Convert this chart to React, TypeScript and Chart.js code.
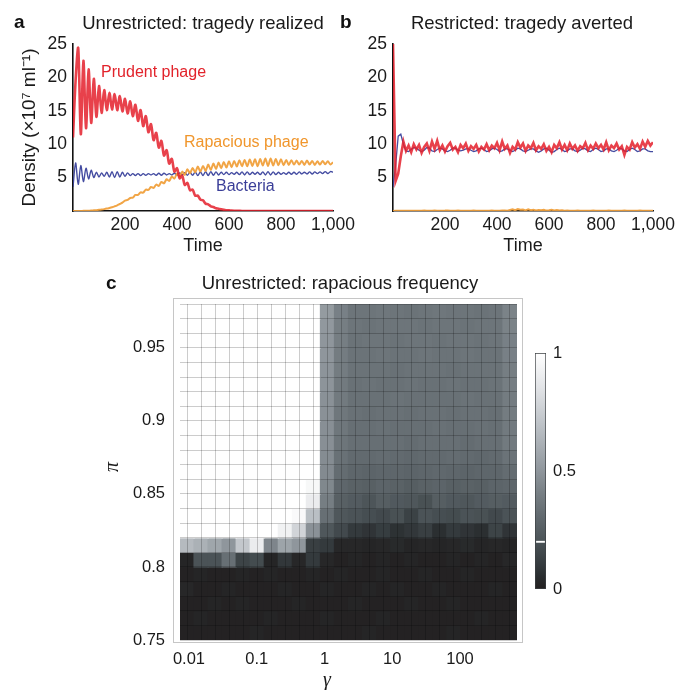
import React, { useEffect, useRef } from 'react';
import { Chart, registerables } from 'chart.js';
Chart.register(...registerables);

// ---------------- data ----------------
const TIME = [0, 10, 20, 30, 40, 50, 60, 70, 80, 90, 100, 110, 120, 130, 140, 150, 160, 170, 180, 190, 200, 210, 220, 230, 240, 250, 260, 270, 280, 290, 300, 310, 320, 330, 340, 350, 360, 370, 380, 390, 400, 410, 420, 430, 440, 450, 460, 470, 480, 490, 500, 510, 520, 530, 540, 550, 560, 570, 580, 590, 600, 610, 620, 630, 640, 650, 660, 670, 680, 690, 700, 710, 720, 730, 740, 750, 760, 770, 780, 790, 800, 810, 820, 830, 840, 850, 860, 870, 880, 890, 900, 910, 920, 930, 940, 950, 960, 970, 980, 990, 1000];
const TIME_TICKS = [200, 400, 600, 800, 1000];
const TIME_TICK_LABELS = ['200', '400', '600', '800', '1,000'];
const DENSITY_TICKS = [5, 10, 15, 20, 25];

// Panel a: unrestricted
const PRUDENT_A = [
  11, 19.5, 24.4, 11.5, 22.5, 12.4, 21.2, 13.2, 19.8, 14.1,
  18.7, 14.7, 18.1, 15.1, 17.7, 15.2, 17.5, 15.1, 17.2, 14.9,
  16.8, 14.6, 16.4, 14.2, 15.9, 13.5, 15.1, 12.7, 14.2, 11.8,
  13.0, 10.6, 11.7, 9.5, 10.5, 8.3, 9.1, 7.1, 7.8, 5.9,
  6.4, 4.9, 5.3, 3.9, 4.2, 3.1, 3.2, 2.3, 2.3, 1.7,
  1.6, 1.1, 1.0, 0.7, 0.6, 0.4, 0.35, 0.25, 0.2, 0.12,
  0.1, 0.06, 0.04, 0.03, 0.02, 0.01, 0.01, 0, 0, 0,
  0, 0, 0, 0, 0, 0, 0, 0, 0, 0,
  0, 0, 0, 0, 0, 0, 0, 0, 0, 0,
  0, 0, 0, 0, 0, 0, 0, 0, 0, 0,
  0];
const RAPACIOUS_A = [
  0, 0, 0, 0.01, 0.02, 0.03, 0.05, 0.07, 0.1, 0.13,
  0.17, 0.22, 0.28, 0.36, 0.46, 0.57, 0.7, 0.85, 1.05, 1.25,
  1.55, 1.65, 1.95, 2.0, 2.4, 2.4, 2.8, 2.75, 3.2, 3.15,
  3.6, 3.45, 3.95, 3.75, 4.35, 4.15, 4.75, 4.5, 5.15, 4.85,
  5.6, 5.15, 5.9, 5.4, 6.25, 5.65, 6.45, 5.8, 6.65, 5.9,
  6.75, 6.0, 6.95, 6.15, 7.1, 6.3, 7.25, 6.4, 7.35, 6.5,
  7.45, 6.55, 7.5, 6.65, 7.6, 6.7, 7.65, 6.7, 7.7, 6.75,
  7.75, 6.7, 7.8, 6.8, 7.85, 6.75, 7.85, 6.8, 7.8, 6.85,
  7.75, 6.85, 7.65, 6.9, 7.6, 6.95, 7.55, 6.95, 7.5, 6.9,
  7.55, 6.95, 7.5, 6.9, 7.45, 6.95, 7.5, 7.0, 7.45, 6.95,
  7.3];
const BACTERIA_A = [
  3.6, 7.2, 4.0, 6.8, 4.4, 6.4, 4.8, 6.1, 5.0, 5.8,
  5.1, 5.7, 5.2, 5.8, 5.1, 5.9, 5.0, 5.9, 5.1, 5.8,
  5.2, 5.7, 5.3, 5.6, 5.3, 5.6, 5.3, 5.6, 5.35, 5.6,
  5.4, 5.6, 5.35, 5.65, 5.35, 5.65, 5.4, 5.6, 5.4, 5.65,
  5.4, 5.7, 5.4, 5.75, 5.35, 5.8, 5.35, 5.85, 5.3, 5.85,
  5.3, 5.9, 5.3, 5.9, 5.35, 5.85, 5.4, 5.8, 5.45, 5.8,
  5.45, 5.75, 5.5, 5.8, 5.45, 5.85, 5.4, 5.85, 5.45, 5.8,
  5.5, 5.8, 5.45, 5.85, 5.4, 5.9, 5.4, 5.85, 5.45, 5.8,
  5.5, 5.75, 5.5, 5.8, 5.5, 5.8, 5.5, 5.85, 5.55, 5.8,
  5.55, 5.85, 5.55, 5.85, 5.6, 5.85, 5.6, 5.9, 5.6, 5.9,
  5.8];

// Panel b: restricted
const PRUDENT_B = [
  25, 4.5, 5.6, 8.2, 10.4, 9.0, 9.8, 8.8, 10.0, 9.2,
  9.9, 8.7, 9.6, 10.1, 9.0, 10.4, 9.3, 10.5, 9.1, 9.8,
  8.9, 9.7, 10.2, 9.2, 9.6, 8.8, 9.9, 9.4, 10.1, 9.0,
  9.7, 9.3, 9.9, 8.9, 9.6, 9.2, 10.0, 9.1, 9.8, 9.4,
  10.2, 9.1, 10.4, 9.3, 9.8, 8.7, 9.6, 9.2, 10.3, 9.5,
  10.1, 9.0, 9.8, 9.4, 10.2, 9.1, 9.7, 9.3, 10.0, 9.0,
  9.6, 8.8, 9.9, 9.4, 10.3, 9.2, 9.9, 9.1, 10.1, 9.3,
  9.8, 9.0, 9.7, 9.4, 10.2, 9.1, 9.8, 9.3, 10.1, 9.4,
  9.9, 9.2, 10.3, 9.1, 9.8, 9.4, 10.1, 9.2, 9.7, 8.4,
  9.6, 9.2, 10.3, 9.5, 10.0, 9.3, 10.4, 9.6, 10.5, 9.8,
  10.3];
const RAPACIOUS_B = [
  0, 0.02, 0.03, 0.03, 0.04, 0.03, 0.04, 0.05, 0.04, 0.05,
  0.05, 0.04, 0.06, 0.05, 0.04, 0.05, 0.06, 0.05, 0.04, 0.05,
  0.06, 0.08, 0.05, 0.04, 0.05, 0.06, 0.05, 0.04, 0.05, 0.04,
  0.05, 0.06, 0.05, 0.04, 0.05, 0.05, 0.04, 0.05, 0.06, 0.05,
  0.05, 0.04, 0.06, 0.08, 0.05, 0.15, 0.25, 0.12, 0.3, 0.18,
  0.22, 0.1, 0.25, 0.12, 0.2, 0.08, 0.15, 0.1, 0.18, 0.06,
  0.12, 0.2, 0.08, 0.15, 0.06, 0.12, 0.05, 0.06, 0.05, 0.04,
  0.05, 0.06, 0.05, 0.04, 0.05, 0.04, 0.05, 0.06, 0.04, 0.05,
  0.05, 0.04, 0.05, 0.06, 0.05, 0.04, 0.05, 0.04, 0.05, 0.06,
  0.05, 0.04, 0.05, 0.04, 0.05, 0.06, 0.05, 0.04, 0.05, 0.04,
  0.05];
const BACTERIA_B = [
  3.6, 6.8, 11.2, 11.5, 10.0, 9.0, 8.9, 9.2, 9.5, 9.4,
  9.1, 8.9, 9.1, 9.5, 9.4, 9.0, 8.9, 9.2, 9.4, 9.3,
  9.0, 8.9, 9.1, 9.4, 9.4, 9.1, 9.0, 9.1, 9.3, 9.3,
  9.1, 8.9, 9.0, 9.3, 9.4, 9.2, 8.9, 9.0, 9.3, 9.4,
  9.2, 8.9, 9.0, 9.3, 9.3, 9.1, 8.9, 9.1, 9.4, 9.3,
  9.0, 8.9, 9.1, 9.3, 9.3, 9.0, 8.8, 9.0, 9.3, 9.4,
  9.1, 8.8, 8.9, 9.2, 9.4, 9.2, 8.9, 9.0, 9.3, 9.3,
  9.0, 8.9, 9.1, 9.4, 9.3, 9.0, 8.9, 9.2, 9.4, 9.2,
  8.9, 9.0, 9.3, 9.3, 9.0, 8.9, 9.1, 9.4, 9.3, 9.0,
  8.9, 9.2, 9.4, 9.2, 8.9, 9.0, 9.3, 9.3, 9.0, 8.9,
  8.9];

// Panel c: heatmap (log10 gamma cell centres, pi cell edges top->bottom)
const GAMMA_LOG = [-2.029, -1.822, -1.615, -1.407, -1.2, -0.993, -0.785, -0.578, -0.371, -0.164, 0.044, 0.251, 0.458, 0.666, 0.873, 1.08, 1.287, 1.495, 1.702, 1.909, 2.117, 2.324, 2.531, 2.738];
const GAMMA_TICKS = [-2, -1, 0, 1, 2];
const GAMMA_TICK_LABELS = ['0.01', '0.1', '1', '10', '100'];
const PI_EDGES = [0.98, 0.97, 0.96, 0.95, 0.94, 0.93, 0.92, 0.91, 0.9, 0.89, 0.88, 0.87, 0.86, 0.85, 0.84, 0.83, 0.82, 0.81, 0.8, 0.79, 0.78, 0.77, 0.76, 0.75];
const PI_TICKS = [0.75, 0.8, 0.85, 0.9, 0.95];
const PI_TICK_LABELS = ['0.75', '0.8', '0.85', '0.9', '0.95'];
const FREQ = [
  [1, 1, 1, 1, 1, 1, 1, 1, 1, 1, 0.52, 0.41, 0.36, 0.36, 0.37, 0.36, 0.35, 0.36, 0.37, 0.36, 0.36, 0.35, 0.36, 0.42],
  [1, 1, 1, 1, 1, 1, 1, 1, 1, 1, 0.51, 0.4, 0.36, 0.35, 0.36, 0.36, 0.36, 0.35, 0.36, 0.36, 0.35, 0.36, 0.36, 0.42],
  [1, 1, 1, 1, 1, 1, 1, 1, 1, 1, 0.5, 0.4, 0.35, 0.36, 0.36, 0.35, 0.36, 0.36, 0.35, 0.36, 0.36, 0.35, 0.36, 0.41],
  [1, 1, 1, 1, 1, 1, 1, 1, 1, 1, 0.5, 0.39, 0.35, 0.35, 0.36, 0.35, 0.35, 0.36, 0.35, 0.35, 0.36, 0.35, 0.35, 0.41],
  [1, 1, 1, 1, 1, 1, 1, 1, 1, 1, 0.49, 0.39, 0.35, 0.35, 0.35, 0.34, 0.35, 0.35, 0.35, 0.34, 0.35, 0.35, 0.35, 0.4],
  [1, 1, 1, 1, 1, 1, 1, 1, 1, 1, 0.49, 0.38, 0.34, 0.35, 0.34, 0.34, 0.35, 0.34, 0.34, 0.35, 0.34, 0.34, 0.35, 0.4],
  [1, 1, 1, 1, 1, 1, 1, 1, 1, 1, 0.48, 0.38, 0.34, 0.34, 0.34, 0.35, 0.34, 0.34, 0.34, 0.34, 0.35, 0.34, 0.34, 0.39],
  [1, 1, 1, 1, 1, 1, 1, 1, 1, 1, 0.48, 0.37, 0.34, 0.33, 0.34, 0.34, 0.33, 0.34, 0.34, 0.33, 0.34, 0.34, 0.33, 0.39],
  [1, 1, 1, 1, 1, 1, 1, 1, 1, 1, 0.47, 0.37, 0.33, 0.33, 0.34, 0.33, 0.33, 0.33, 0.34, 0.33, 0.33, 0.34, 0.33, 0.38],
  [1, 1, 1, 1, 1, 1, 1, 1, 1, 1, 0.47, 0.36, 0.33, 0.33, 0.33, 0.33, 0.32, 0.33, 0.33, 0.33, 0.32, 0.33, 0.33, 0.38],
  [1, 1, 1, 1, 1, 1, 1, 1, 1, 1, 0.46, 0.34, 0.31, 0.31, 0.32, 0.31, 0.3, 0.31, 0.31, 0.32, 0.31, 0.3, 0.31, 0.35],
  [1, 1, 1, 1, 1, 1, 1, 1, 1, 1, 0.45, 0.32, 0.29, 0.28, 0.29, 0.29, 0.28, 0.29, 0.3, 0.29, 0.28, 0.29, 0.29, 0.32],
  [1, 1, 1, 1, 1, 1, 1, 1, 1, 0.96, 0.44, 0.29, 0.27, 0.26, 0.28, 0.27, 0.25, 0.27, 0.28, 0.26, 0.27, 0.26, 0.28, 0.29],
  [1, 1, 1, 1, 1, 1, 1, 1, 1, 0.9, 0.4, 0.26, 0.24, 0.21, 0.25, 0.23, 0.22, 0.19, 0.25, 0.23, 0.22, 0.24, 0.25, 0.24],
  [1, 1, 1, 1, 1, 1, 1, 1, 0.97, 0.68, 0.33, 0.22, 0.2, 0.18, 0.16, 0.19, 0.13, 0.2, 0.18, 0.17, 0.2, 0.19, 0.16, 0.2],
  [1, 1, 1, 1, 1, 1, 1, 0.93, 0.78, 0.48, 0.22, 0.16, 0.1, 0.08, 0.11, 0.07, 0.09, 0.12, 0.06, 0.1, 0.08, 0.06, 0.14, 0.08],
  [0.66, 0.62, 0.57, 0.5, 0.72, 0.9, 0.43, 0.56, 0.5, 0.12, 0.1, 0.03, 0.03, 0.02, 0.03, 0.04, 0.02, 0.03, 0.02, 0.03, 0.04, 0.02, 0.03, 0.02],
  [0.02, 0.2, 0.2, 0.33, 0.14, 0.17, 0.02, 0.09, 0.03, 0.1, 0.03, 0.01, 0.02, 0.01, 0.02, 0.01, 0.02, 0.01, 0.01, 0.02, 0.01, 0.02, 0.01, 0.03],
  [0.01, 0.02, 0.01, 0.01, 0.02, 0.01, 0.02, 0.01, 0.01, 0.02, 0.01, 0.02, 0.01, 0.01, 0.02, 0.01, 0.01, 0.02, 0.01, 0.01, 0.02, 0.01, 0.01, 0.01],
  [0.03, 0.01, 0.01, 0.02, 0.01, 0.01, 0.01, 0.02, 0.01, 0.01, 0.02, 0.01, 0.01, 0.02, 0.01, 0.02, 0.01, 0.01, 0.02, 0.01, 0.01, 0.01, 0.02, 0.01],
  [0.01, 0.01, 0.02, 0.01, 0.02, 0.01, 0.01, 0.01, 0.02, 0.01, 0.01, 0.01, 0.02, 0.01, 0.01, 0.01, 0.02, 0.01, 0.01, 0.02, 0.01, 0.01, 0.01, 0.01],
  [0.01, 0.02, 0.01, 0.01, 0.01, 0.01, 0.02, 0.01, 0.01, 0.01, 0.02, 0.01, 0.01, 0.01, 0.02, 0.01, 0.01, 0.01, 0.01, 0.01, 0.01, 0.02, 0.01, 0.01],
  [0.01, 0.01, 0.01, 0.01, 0.01, 0.02, 0.01, 0.01, 0.01, 0.01, 0.01, 0.01, 0.01, 0.02, 0.01, 0.01, 0.01, 0.01, 0.01, 0.02, 0.01, 0.01, 0.01, 0.01],
];
const CBAR_TICKS = [0, 0.5, 1];
const CBAR_TICK_LABELS = ['0', '0.5', '1'];
const CBAR_MARK = 0.2;

// ---------------- styles ----------------
const SANS = '"Liberation Sans", Arial, Helvetica, sans-serif';
const SERIF = '"Liberation Serif", "DejaVu Serif", serif';
const RED = 'rgba(228, 32, 44, 0.85)';
const ORANGE = 'rgba(240, 160, 60, 0.95)';
const BLUE = 'rgba(58, 66, 156, 0.95)';
const MESH = 'rgba(0, 0, 0, 0.2)';
const W = 676, H = 690;

const GREY_STOPS: [number, number[]][] = [
  [0, [35, 32, 32]], [0.05, [41, 44, 46]], [0.1, [52, 58, 61]], [0.2, [75, 83, 87]],
  [0.3, [96, 104, 109]], [0.4, [118, 126, 131]], [0.5, [143, 150, 156]],
  [0.7, [190, 195, 200]], [0.85, [225, 227, 230]], [1, [255, 255, 255]],
];
function greyRGB(v: number): number[] {
  const t = Math.max(0, Math.min(1, v));
  for (let i = 1; i < GREY_STOPS.length; i++) {
    const [v1, c1] = GREY_STOPS[i];
    const [v0, c0] = GREY_STOPS[i - 1];
    if (t <= v1) {
      const f = (t - v0) / (v1 - v0);
      return c0.map((c, k) => Math.round(c + (c1[k] - c) * f));
    }
  }
  return GREY_STOPS[GREY_STOPS.length - 1][1];
}
const rgb = (c: number[]) => `rgb(${c[0]},${c[1]},${c[2]})`;

// cell edges along gamma (midpoints between centres, plus outer edges)
function gammaEdges(): number[] {
  const c = GAMMA_LOG;
  const e = [c[0] - (c[1] - c[0]) / 2];
  for (let i = 1; i < c.length; i++) e.push((c[i - 1] + c[i]) / 2);
  e.push(c[c.length - 1] + (c[c.length - 1] - c[c.length - 2]) / 2);
  return e;
}

type TextItem = { text: string; x: number; y: number; font: string; color: string; align?: CanvasTextAlign; baseline?: CanvasTextBaseline; rotate?: number; data?: boolean };
type Frame = { color: string; l: number; t: number; r: number; b: number };
function textPlugin(id: string, items: TextItem[], frame?: Frame) {
  return {
    id,
    afterDraw(chart: any) {
      const ctx = chart.ctx as CanvasRenderingContext2D;
      if (frame) {
        const a = chart.chartArea;
        ctx.save();
        ctx.strokeStyle = frame.color;
        ctx.lineWidth = 1;
        const x0 = Math.round(a.left - frame.l) + 0.5, y0 = Math.round(a.top - frame.t) + 0.5;
        const x1 = Math.round(a.right + frame.r) - 0.5, y1 = Math.round(a.bottom + frame.b) - 0.5;
        ctx.strokeRect(x0, y0, x1 - x0, y1 - y0);
        ctx.restore();
      }
      items.forEach((it) => {
        let x = it.x, y = it.y;
        if (it.data) {
          x = chart.scales.x.getPixelForValue(it.x);
          y = chart.scales.y.getPixelForValue(it.y);
        }
        ctx.save();
        ctx.translate(x, y);
        if (it.rotate) ctx.rotate(it.rotate);
        ctx.font = it.font;
        ctx.fillStyle = it.color;
        ctx.textAlign = it.align ?? 'left';
        ctx.textBaseline = it.baseline ?? 'alphabetic';
        ctx.fillText(it.text, 0, 0);
        ctx.restore();
      });
    },
  };
}

function lineConfig(prudent: number[], rapacious: number[], bacteria: number[], o: {
  left: number; right: number; yWidth: number; yTitle?: string; texts: TextItem[]; id: string; redW: number; blueW: number; tension: number;
}): any {
  const pts = (arr: number[]) => TIME.map((t, i) => ({ x: t, y: arr[i] }));
  const tickFont = { family: SANS, size: 17.5 };
  return {
    type: 'line',
    data: {
      datasets: [
        { label: 'Prudent phage', data: pts(prudent), borderColor: RED, borderWidth: o.redW, pointRadius: 0, tension: o.tension },
        { label: 'Rapacious phage', data: pts(rapacious), borderColor: ORANGE, borderWidth: 2, pointRadius: 0, tension: o.tension },
        { label: 'Bacteria', data: pts(bacteria), borderColor: BLUE, borderWidth: o.blueW, pointRadius: 0, tension: o.tension },
      ],
    },
    options: {
      responsive: false, animation: false, devicePixelRatio: 1,
      layout: { padding: { left: o.left - o.yWidth, top: 44, right: W - o.right, bottom: H - 261 } },
      plugins: { legend: { display: false }, tooltip: { enabled: false }, title: { display: false } },
      scales: {
        x: {
          type: 'linear', min: 0, max: 1000, offset: false,
          afterBuildTicks: (s: any) => { s.ticks = TIME_TICKS.map((v) => ({ value: v })); },
          ticks: { font: tickFont, color: '#1a1a1a', padding: 4, maxRotation: 0, autoSkip: false, callback: (_v: any, i: number) => TIME_TICK_LABELS[i] },
          grid: { display: false, drawTicks: false },
          border: { display: true, color: '#111', width: 1.6 },
          title: { display: true, text: 'Time', font: { family: SANS, size: 18 }, color: '#1a1a1a', padding: { top: 0, bottom: 4 } },
          afterFit: (s: any) => { s.height = 50; s.paddingLeft = 0; s.paddingRight = 0; },
        },
        y: {
          type: 'linear', min: 0, max: 25,
          afterBuildTicks: (s: any) => { s.ticks = DENSITY_TICKS.map((v) => ({ value: v })); },
          ticks: { font: tickFont, color: '#1a1a1a', padding: 6, callback: (v: any) => String(v) },
          grid: { display: false, drawTicks: false },
          border: { display: true, color: '#111', width: 1.6 },
          title: { display: !!o.yTitle, text: o.yTitle ?? '', font: { family: SANS, size: 19 }, color: '#1a1a1a', padding: { top: 4, bottom: 0 } },
          afterFit: (s: any) => { s.width = o.yWidth; s.paddingTop = 0; s.paddingBottom = 0; },
        },
      },
    },
    plugins: [textPlugin(o.id, o.texts)],
  };
}

function heatConfig(): any {
  const GEDGES = gammaEdges();
  const datasets = FREQ.map((row, r) => ({
    label: `pi ${PI_EDGES[r + 1]}`,
    data: GAMMA_LOG.map((g) => ({ x: g, y: [PI_EDGES[r + 1], PI_EDGES[r]] })),
    backgroundColor: row.map((v) => rgb(greyRGB(v))),
    borderWidth: 0,
    inflateAmount: 0.6,
    barPercentage: 1,
    categoryPercentage: 1,
    grouped: false,
  }));
  const tickFont = { family: SANS, size: 16.5 };
  const xRange = { min: GEDGES[0], max: GEDGES[GEDGES.length - 1] };
  const yRange = { min: PI_EDGES[PI_EDGES.length - 1], max: PI_EDGES[0] };
  return {
    type: 'bar',
    data: { datasets },
    options: {
      responsive: false, animation: false, devicePixelRatio: 1,
      layout: { padding: { left: 100, top: 304, right: W - 517, bottom: H - 640 - 40 } },
      plugins: { legend: { display: false }, tooltip: { enabled: false } },
      scales: {
        x: {
          type: 'linear', ...xRange, offset: false,
          afterBuildTicks: (s: any) => { s.ticks = GAMMA_TICKS.map((v) => ({ value: v })); },
          ticks: { font: tickFont, color: '#1a1a1a', padding: 10, maxRotation: 0, autoSkip: false, callback: (_v: any, i: number) => GAMMA_TICK_LABELS[i] },
          grid: { display: false, drawTicks: false },
          border: { display: false },
          afterFit: (s: any) => { s.height = 40; s.paddingLeft = 0; s.paddingRight = 0; },
        },
        y: {
          type: 'linear', ...yRange,
          afterBuildTicks: (s: any) => { s.ticks = PI_TICKS.map((v) => ({ value: v })); },
          ticks: { font: tickFont, color: '#1a1a1a', padding: 15, autoSkip: false, callback: (_v: any, i: number) => PI_TICK_LABELS[i] },
          grid: { display: false, drawTicks: false },
          border: { display: false },
          afterFit: (s: any) => { s.width = 80; s.paddingTop = 0; s.paddingBottom = 0; },
        },
        // mesh axes: only their grid lines are drawn, on top of the cells
        xMesh: {
          type: 'linear', position: 'top', ...xRange, offset: false,
          afterBuildTicks: (s: any) => { s.ticks = GEDGES.map((v) => ({ value: v })); },
          ticks: { display: false },
          grid: { display: true, drawTicks: false, color: MESH, lineWidth: 1, z: 1 },
          border: { display: false },
          afterFit: (s: any) => { s.height = 0; s.paddingLeft = 0; s.paddingRight = 0; },
        },
        yMesh: {
          type: 'linear', position: 'right', ...yRange,
          afterBuildTicks: (s: any) => { s.ticks = PI_EDGES.map((v) => ({ value: v })); },
          ticks: { display: false },
          grid: { display: true, drawTicks: false, color: MESH, lineWidth: 1, z: 1 },
          border: { display: false },
          afterFit: (s: any) => { s.width = 0; s.paddingTop = 0; s.paddingBottom = 0; },
        },
      },
    },
    plugins: [textPlugin('heatText', [
      { text: 'c', x: 106, y: 289, font: `bold 19px ${SANS}`, color: '#111' },
      { text: 'Unrestricted: rapacious frequency', x: 340, y: 289, font: `18.5px ${SANS}`, color: '#1a1a1a', align: 'center' },
      { text: 'π', x: 113, y: 467, font: `italic 20px ${SERIF}`, color: '#1a1a1a', align: 'center', baseline: 'middle', rotate: -Math.PI / 2 },
      { text: 'γ', x: 327, y: 681, font: `italic 20px ${SERIF}`, color: '#1a1a1a', align: 'center', baseline: 'middle' },
    ], { color: '#c6c6c6', l: 7, t: 6, r: 6, b: 3 })],
  };
}

function cbarConfig(): any {
  const gradient = (ctx: any) => {
    const chart = ctx.chart;
    const a = chart.chartArea;
    if (!a) return '#888';
    const g = chart.ctx.createLinearGradient(0, a.bottom, 0, a.top);
    GREY_STOPS.forEach(([v, c]) => g.addColorStop(v, rgb(c)));
    return g;
  };
  return {
    type: 'bar',
    data: {
      labels: [''],
      datasets: [
        { label: 'mark', data: [[CBAR_MARK - 0.004, CBAR_MARK + 0.004]], backgroundColor: '#ffffff', borderWidth: 0, barPercentage: 0.8, categoryPercentage: 1, grouped: false },
        { label: 'scale', data: [[0, 1]], backgroundColor: gradient, borderColor: '#3c4043', borderWidth: 1, borderSkipped: false, barPercentage: 1, categoryPercentage: 1, grouped: false },
      ],
    },
    options: {
      responsive: false, animation: false, devicePixelRatio: 1,
      layout: { padding: { left: 535, top: 353, right: W - 546 - 40, bottom: H - 589 } },
      plugins: { legend: { display: false }, tooltip: { enabled: false } },
      scales: {
        x: { display: false, offset: true },
        y: {
          position: 'right', min: 0, max: 1,
          afterBuildTicks: (s: any) => { s.ticks = CBAR_TICKS.map((v) => ({ value: v })); },
          ticks: { font: { family: SANS, size: 16.5 }, color: '#1a1a1a', padding: 7, callback: (_v: any, i: number) => CBAR_TICK_LABELS[i] },
          grid: { display: false, drawTicks: false },
          border: { display: false },
          afterFit: (s: any) => { s.width = 40; s.paddingTop = 0; s.paddingBottom = 0; },
        },
      },
    },
  };
}

export default function App() {
  const aRef = useRef<HTMLCanvasElement>(null);
  const bRef = useRef<HTMLCanvasElement>(null);
  const cRef = useRef<HTMLCanvasElement>(null);
  const dRef = useRef<HTMLCanvasElement>(null);

  useEffect(() => {
    const charts: Chart[] = [];
    charts.push(new Chart(aRef.current!, lineConfig(PRUDENT_A, RAPACIOUS_A, BACTERIA_A, {
      left: 73, right: 333, yWidth: 59, yTitle: 'Density (×10⁷ ml⁻¹)', id: 'aText', redW: 2.6, blueW: 1.4, tension: 0.3,
      texts: [
        { text: 'a', x: 14, y: 28, font: `bold 19px ${SANS}`, color: '#111' },
        { text: 'Unrestricted: tragedy realized', x: 203, y: 29, font: `18.5px ${SANS}`, color: '#1a1a1a', align: 'center' },
        { text: 'Prudent phage', x: 108, y: 20.7, font: `16px ${SANS}`, color: '#e2232b', baseline: 'middle', data: true },
        { text: 'Rapacious phage', x: 427, y: 10.2, font: `16px ${SANS}`, color: '#f0962c', baseline: 'middle', data: true },
        { text: 'Bacteria', x: 550, y: 3.6, font: `16px ${SANS}`, color: '#3a3e98', baseline: 'middle', data: true },
      ],
    })));
    charts.push(new Chart(bRef.current!, lineConfig(PRUDENT_B, RAPACIOUS_B, BACTERIA_B, {
      left: 393, right: 653, yWidth: 40, id: 'bText', redW: 2.6, blueW: 1.3, tension: 0,
      texts: [
        { text: 'b', x: 340, y: 28, font: `bold 19px ${SANS}`, color: '#111' },
        { text: 'Restricted: tragedy averted', x: 522, y: 29, font: `18.5px ${SANS}`, color: '#1a1a1a', align: 'center' },
      ],
    })));
    charts.push(new Chart(cRef.current!, heatConfig()));
    charts.push(new Chart(dRef.current!, cbarConfig()));
    return () => charts.forEach((c) => c.destroy());
  }, []);

  const cs: React.CSSProperties = { position: 'absolute', left: 0, top: 0, width: W, height: H };
  return (
    <div style={{ position: 'absolute', left: 0, top: 0, width: W, height: H, background: '#fff', overflow: 'hidden' }}>
      <canvas ref={aRef} width={W} height={H} style={cs} />
      <canvas ref={bRef} width={W} height={H} style={cs} />
      <canvas ref={cRef} width={W} height={H} style={cs} />
      <canvas ref={dRef} width={W} height={H} style={cs} />
    </div>
  );
}
